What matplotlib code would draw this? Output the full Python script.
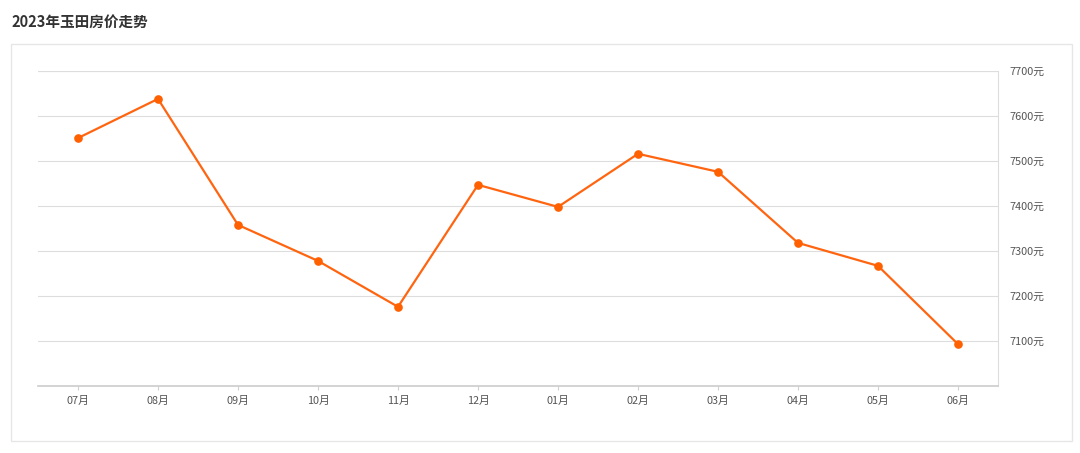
import matplotlib.pyplot as plt
from matplotlib.patches import Rectangle

plt.rcParams['font.family'] = ['Noto Sans CJK SC', 'DejaVu Sans']

# 数据
months = ['07月', '08月', '09月', '10月', '11月', '12月',
          '01月', '02月', '03月', '04月', '05月', '06月']
prices = [7551, 7638, 7358, 7278, 7176, 7447, 7398, 7516, 7476, 7318, 7267, 7093]
yticks = [7100, 7200, 7300, 7400, 7500, 7600, 7700]

W, H = 1080, 453
fig = plt.figure(figsize=(W / 100, H / 100), dpi=100)

# 外框
fig.patches.append(Rectangle((11 / W, 1 - 441 / H), (1072 - 11) / W, (441 - 44) / H,
                             transform=fig.transFigure, fill=False,
                             edgecolor='#e6e6e6', linewidth=1))
fig.text(11 / W, 1 - 22 / H, '2023年玉田房价走势', fontsize=10.5, fontweight='bold',
         color='#333333', va='center', ha='left')

ax = fig.add_axes([38 / W, 1 - 386 / H, (998 - 38) / W, (386 - 71) / H])
x = range(len(months))
ax.plot(x, prices, color='#ff6510', linewidth=1.6, marker='o', markersize=5.2,
        markerfacecolor='#ff6000', markeredgecolor='#ff6000')

ax.set_xlim(-0.5, len(months) - 0.5)
ax.set_ylim(7000, 7700)
ax.set_xticks(list(x))
ax.set_xticklabels(months)
ax.set_yticks(yticks)
ax.set_yticklabels([f'{v}元' for v in yticks])
ax.yaxis.tick_right()
ax.tick_params(axis='y', length=0, pad=8, labelsize=7.8, labelcolor='#555555')
ax.tick_params(axis='x', length=3, color='#d0d0d0', pad=4, labelsize=7.8,
               labelcolor='#555555')
ax.grid(axis='y', color='#dddddd', linewidth=0.8)
ax.axhline(7700, color='#dddddd', linewidth=0.8)
for s in ['top', 'left']:
    ax.spines[s].set_visible(False)
ax.spines['bottom'].set_color('#cccccc')
ax.spines['bottom'].set_linewidth(1.2)
ax.spines['right'].set_color('#dddddd')
ax.spines['right'].set_linewidth(0.8)
ax.set_axisbelow(True)

fig.savefig('out.png', dpi=100)
